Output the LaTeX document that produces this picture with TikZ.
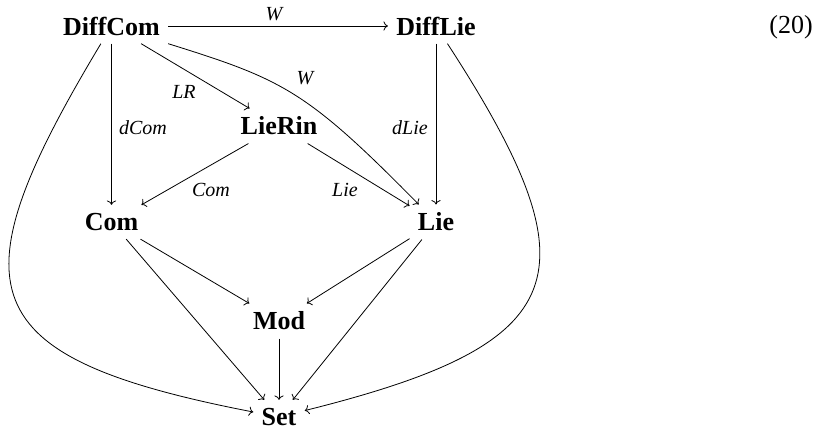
\documentclass[tikz,border=0pt]{standalone}
\usepackage{fontspec}
\setmainfont{Liberation Serif}
\usetikzlibrary{arrows.meta}
\begin{document}
\begin{tikzpicture}[x=0.5pt,y=-0.5pt,line width=0.4pt,
  obj/.style={font=\fontsize{13}{15}\selectfont\bfseries, inner sep=4pt},
  lbl/.style={font=\fontsize{10}{12}\selectfont\itshape, inner sep=0pt},
  arr/.style={-{To[length=2.2pt,width=4.6pt]}}]
\useasboundingbox (0,0) rectangle (825,429);
% objects
\node[obj] (DiffCom) at (111.5,26) {DiffCom};
\node[obj] (DiffLie) at (436,26) {DiffLie};
\node[obj] (LieRin) at (279,126) {LieRin};
\node[obj] (Com) at (111.5,222) {Com};
\node[obj] (Lie) at (436,222) {Lie};
\node[obj] (Mod) at (279,321) {Mod};
\node[obj] (Set) at (279,417) {Set};
\node[font=\fontsize{13}{15}\selectfont, inner sep=0pt] (eq) at (791,27) {(20)};
% control points of the curved arrows
\coordinate (w1) at (283,79.5);
\coordinate (w2) at (306,90);
% arrows
\draw[arr] (DiffCom) -- (DiffLie);
\draw[arr] (DiffCom) -- (LieRin);
\draw[arr] (DiffCom) .. controls (w1) and (w2) .. (Lie);
\draw[arr] (DiffCom) -- (Com);
\draw[arr] (DiffLie) -- (Lie);
\draw[arr] (LieRin) -- (Com);
\draw[arr] (LieRin) -- (Lie);
\draw[arr] (Com) -- (Mod);
\draw[arr] (Lie) -- (Mod);
\draw[arr] (Com) -- (Set);
\draw[arr] (Lie) -- (Set);
\draw[arr] (Mod) -- (Set);
\draw[arr] (DiffCom) to[out=-121,in=169,looseness=1.85] (Set);
\draw[arr] (DiffLie) to[out=-57,in=14,looseness=1.8] (Set);
% labels
\node[lbl] (lW1) at (274,14) {W};
\node[lbl] (lLR) at (184,92) {LR};
\node[lbl] (ldCom) at (143,127.5) {dCom};
\node[lbl] (lW2) at (305,78) {W};
\node[lbl] (ldLie) at (410,128) {dLie};
\node[lbl] (lCom) at (211,190) {Com};
\node[lbl] (lLie) at (345,190) {Lie};
\end{tikzpicture}
\end{document}
